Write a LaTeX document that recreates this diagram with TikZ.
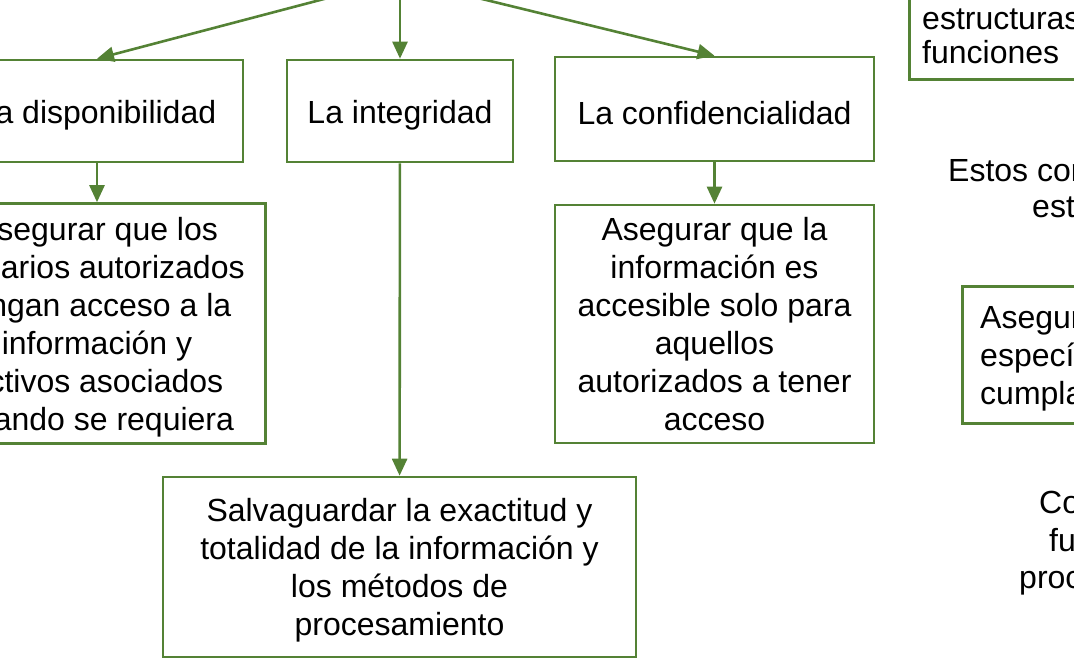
\documentclass[tikz,border=0pt]{standalone}
\usepackage{fontspec}
\setmainfont{Liberation Sans}
\usetikzlibrary{arrows.meta,positioning}
\definecolor{verde}{RGB}{84,130,53}

\begin{document}
\begin{tikzpicture}[x=1pt, y=-1pt,
  caja/.style={draw=verde, line width=2.6pt, rectangle, inner sep=0pt, align=center,
    font=\fontsize{32}{38}\selectfont, execute at begin node={\rule{0pt}{32pt}}},
  lineas/.style={text depth=-3pt},
  marco/.style={draw=verde, line width=2.6pt, rectangle, inner sep=0pt},
  texto/.style={inner sep=0pt, anchor=base west, font=\fontsize{32}{38}\selectfont},
  flecha/.style={draw=verde, line width=2.6pt, -{Triangle[length=17pt,width=15pt]}}]
\useasboundingbox (0,0) rectangle (1074,658);
\clip (0,0) rectangle (1074,658);

\coordinate (raiz) at (400,-21);
\node[caja, minimum width=292pt, minimum height=102pt] (disp) at (97,111) {La disponibilidad};
\node[caja, minimum width=226pt, minimum height=102pt] (integ) at (400,111) {La integridad};
\node[caja, minimum width=319pt, minimum height=104pt] (conf) at (714.5,109) {La confidencialidad};

\node[caja, lineas, minimum width=337pt, minimum height=240pt] (dispdesc) at (97,323.5)
  {Asegurar que los\\usuarios autorizados\\tengan acceso a la\\información y\\activos asociados\\cuando se requiera};
\node[caja, lineas, minimum width=319pt, minimum height=238pt] (confdesc) at (714.5,324)
  {Asegurar que la\\información es\\accesible solo para\\aquellos\\autorizados a tener\\acceso};
\node[caja, lineas, minimum width=473pt, minimum height=180pt] (integdesc) at (399.5,567)
  {Salvaguardar la exactitud y\\totalidad de la información y\\los métodos de\\procesamiento};

\draw[flecha] (raiz) -- (disp.north);
\draw[flecha] (raiz) -- (integ.north);
\draw[flecha] (raiz) -- (conf.north);
\draw[flecha] (disp) -- (dispdesc);
\draw[flecha] (conf) -- (confdesc);
\draw[flecha] (integ) -- (integdesc);

% columna de la derecha
\node[marco, minimum width=320pt, minimum height=160pt, anchor=south west] (otra) at (908,81) {};
\node[texto] (estr) at (922,30) {estructuras};
\node[texto] (func) at (922,64) {funciones};
\node[texto] (estos) at (948,182) {Estos con};
\node[texto] (est) at (1032,218) {est};
\node[marco, minimum width=300pt, minimum height=137pt, anchor=north west] (asegbox) at (961,285) {};
\node[texto] (aseg) at (980,328) {Asegur};
\node[texto] (espe) at (980,366) {especí};
\node[texto] (cump) at (980,404) {cumpla};
\node[texto] (co) at (1039,513) {Co};
\node[texto] (fu) at (1049,551) {fu};
\node[texto] (proc) at (1019,588) {proc};
\end{tikzpicture}
\end{document}
